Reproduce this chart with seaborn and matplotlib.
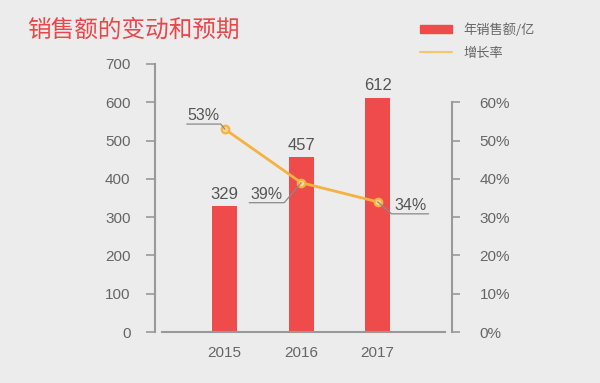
import matplotlib
matplotlib.use('Agg')
import matplotlib.pyplot as plt
import seaborn as sns
import pandas as pd
from matplotlib.lines import Line2D
from matplotlib.patches import Patch
from matplotlib.transforms import IdentityTransform
from matplotlib.ticker import PercentFormatter

# 数据
years = ['2015', '2016', '2017']
sales = [329, 457, 612]          # 年销售额/亿
growth = [53, 39, 34]            # 增长率 %
growth_labels = ['53%', '39%', '34%']

RED = '#EE4B4A'
ORANGE = '#F5B23E'
GRAY = '#999999'
TXT = '#666666'

sns.set_style('white')
plt.rcParams['font.family'] = ['Liberation Sans', 'Noto Sans CJK SC']

fig = plt.figure(figsize=(6, 3.83), dpi=100, facecolor='#ECECEC')
ax = fig.add_axes([0.258, 0.133, 0.495, 0.70])
ax.set_facecolor('none')

df = pd.DataFrame({'year': years, 'sales': sales, 'growth': growth})
sns.barplot(data=df, x='year', y='sales', color=RED, width=0.33,
            saturation=1, linewidth=0, ax=ax)
ax.bar_label(ax.containers[0], padding=3, fontsize=12, color='#555555')

ax.set_xlim(-0.915, 2.97)
ax.set_ylim(0, 700)
ax.set_yticks(range(0, 701, 100))
ax.set_xlabel('')
ax.set_ylabel('')

# 增长率折线
ax2 = ax.twinx()
sns.lineplot(x=[0, 1, 2], y=growth, ax=ax2, color=ORANGE, lw=2,
             marker='o', markersize=5.5, markerfacecolor='#FBD48A',
             markeredgecolor=ORANGE, markeredgewidth=1.5)
ax2.set_ylim(0, 70)
ax2.set_yticks(range(0, 61, 10))
ax2.yaxis.set_major_formatter(PercentFormatter(decimals=0))
ax2.set_ylabel('')

# 坐标轴样式
for s in ['top', 'right']:
    ax.spines[s].set_visible(False)
for s in ['top', 'left', 'bottom']:
    ax2.spines[s].set_visible(False)
ax.spines['left'].set_color(GRAY)
ax.spines['left'].set_linewidth(1.5)
ax.spines['bottom'].set_color(GRAY)
ax.spines['bottom'].set_linewidth(1.5)
ax.spines['bottom'].set_bounds(-0.82, 2.88)
ax2.spines['right'].set_color(GRAY)
ax2.spines['right'].set_linewidth(1.5)
ax2.spines['right'].set_bounds(0, 60)

ax.tick_params(axis='x', length=0, pad=10, labelsize=11, labelcolor=TXT)
ax.tick_params(axis='y', left=True, length=6.5, width=1.2, color=GRAY,
               pad=11, labelsize=11, labelcolor=TXT)
ax2.tick_params(axis='y', right=True, length=6, width=1.2, color=GRAY,
                pad=14, labelsize=11, labelcolor=TXT)

# 增长率标签及引线 (像素偏移)
leaders = [(-4, 5, -38), (-17, -20, -52), (14, -12, 51)]
for i, (g, lab) in enumerate(zip(growth, growth_labels)):
    ex, ey, end = leaders[i]
    px, py = ax2.transData.transform((i, g))
    xs = [px, px + ex, px + end]
    ys = [py, py + ey, py + ey]
    fig.add_artist(Line2D(xs, ys, color='#8A8A8A', lw=0.9,
                          transform=IdentityTransform(), zorder=1))
    ax2.annotate(lab, xy=(i, g), xytext=(ex + (end - ex) / 2, ey + 1),
                 textcoords='offset pixels', ha='center', va='bottom',
                 fontsize=11.5, color='#555555')

# 标题
fig.text(0.045, 0.922, '销售额的变动和预期', color='#E8474A', fontsize=17,
         family=['Noto Sans CJK SC'], fontweight='medium', va='center')

# 图例
handles = [Patch(color=RED), Line2D([], [], color='#F7C46C', lw=1.5)]
fig.legend(handles, ['年销售额/亿', '增长率'], loc='upper left',
           bbox_to_anchor=(0.68, 0.971), frameon=False,
           handlelength=2.4, handleheight=0.5, labelspacing=0.75,
           handletextpad=0.9, labelcolor=TXT,
           prop={'family': ['Noto Sans CJK SC'], 'size': 9.5})

fig.savefig('out.png', dpi=100, facecolor=fig.get_facecolor())
